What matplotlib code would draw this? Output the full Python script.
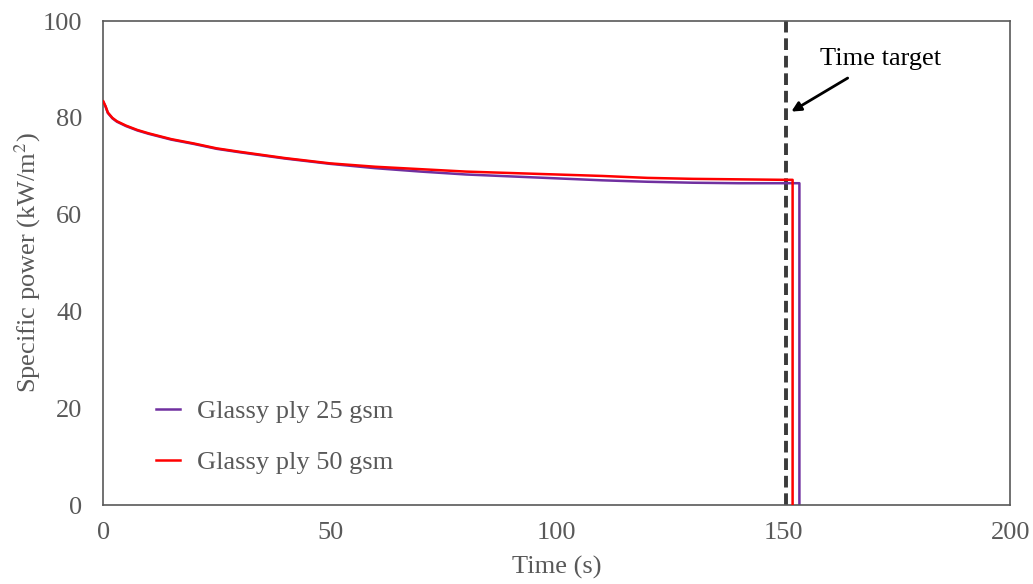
import matplotlib.pyplot as plt

plt.rcParams['font.family'] = ['Liberation Serif', 'DejaVu Serif']
plt.rcParams['mathtext.fontset'] = 'stix'

# time (s) and specific power (kW/m2)
t_25 = [0, 0.5, 1, 2, 3, 5, 7.5, 10, 15, 20, 25, 30, 40, 50, 60, 70, 80, 90, 100, 110, 120, 130, 140, 150, 153.5, 153.5]
p_25 = [83.3, 82.3, 81.0, 79.9, 79.2, 78.3, 77.4, 76.7, 75.5, 74.6, 73.6, 72.9, 71.6, 70.5, 69.6, 68.9, 68.3, 67.9, 67.5, 67.1, 66.8, 66.6, 66.5, 66.5, 66.5, 0]
t_50 = [0, 0.5, 1, 2, 3, 5, 7.5, 10, 15, 20, 25, 30, 40, 50, 60, 70, 80, 90, 100, 110, 120, 130, 140, 150, 152, 152]
p_50 = [83.4, 82.4, 81.1, 80.0, 79.3, 78.4, 77.5, 76.8, 75.6, 74.7, 73.7, 73.0, 71.7, 70.6, 69.9, 69.4, 68.9, 68.6, 68.3, 68.0, 67.6, 67.4, 67.3, 67.2, 67.2, 0]
time_target = 150.5

grey = '#595959'

fig, ax = plt.subplots(figsize=(10.33, 5.84), dpi=100)
fig.subplots_adjust(left=0.1, right=0.978, top=0.964, bottom=0.135)

ax.axvline(time_target, color='#3a3a3a', lw=2.8, ls=(0, (3, 1.5)), zorder=1)
ax.plot(t_25, p_25, color='#7030a0', lw=1.8, label='Glassy ply 25 gsm', zorder=2)
ax.plot(t_50, p_50, color='#ff0000', lw=1.8, label='Glassy ply 50 gsm', zorder=3)

ax.set_xlim(0, 200)
ax.set_ylim(0, 100)
ax.set_xticks([0, 50, 100, 150, 200])
ax.set_yticks([0, 20, 40, 60, 80, 100])
ax.tick_params(axis='y', length=0, labelsize=19, colors=grey, pad=15)
ax.tick_params(axis='x', length=0, labelsize=19, colors=grey, pad=12)
for s in ax.spines.values():
    s.set_color(grey)
    s.set_linewidth(1.2)

ax.set_xlabel('Time (s)', fontsize=19, color=grey, labelpad=9)
ax.set_ylabel('Specific power (kW/m$^2$)', fontsize=19, color=grey)
ax.yaxis.set_label_coords(-0.066, 0.5)

ax.annotate('Time target', xy=(time_target + 0.7, 81), xytext=(158, 91),
            fontsize=19, color='black',
            arrowprops=dict(arrowstyle='-|>', color='black', lw=2, mutation_scale=14,
                            shrinkA=8))

leg = ax.legend(loc='lower left', bbox_to_anchor=(0.032, 0.015), frameon=False,
                fontsize=19, handlelength=0.9, labelspacing=1.05, handletextpad=0.65)
for txt in leg.get_texts():
    txt.set_color(grey)

fig.savefig('out.png', dpi=100)
